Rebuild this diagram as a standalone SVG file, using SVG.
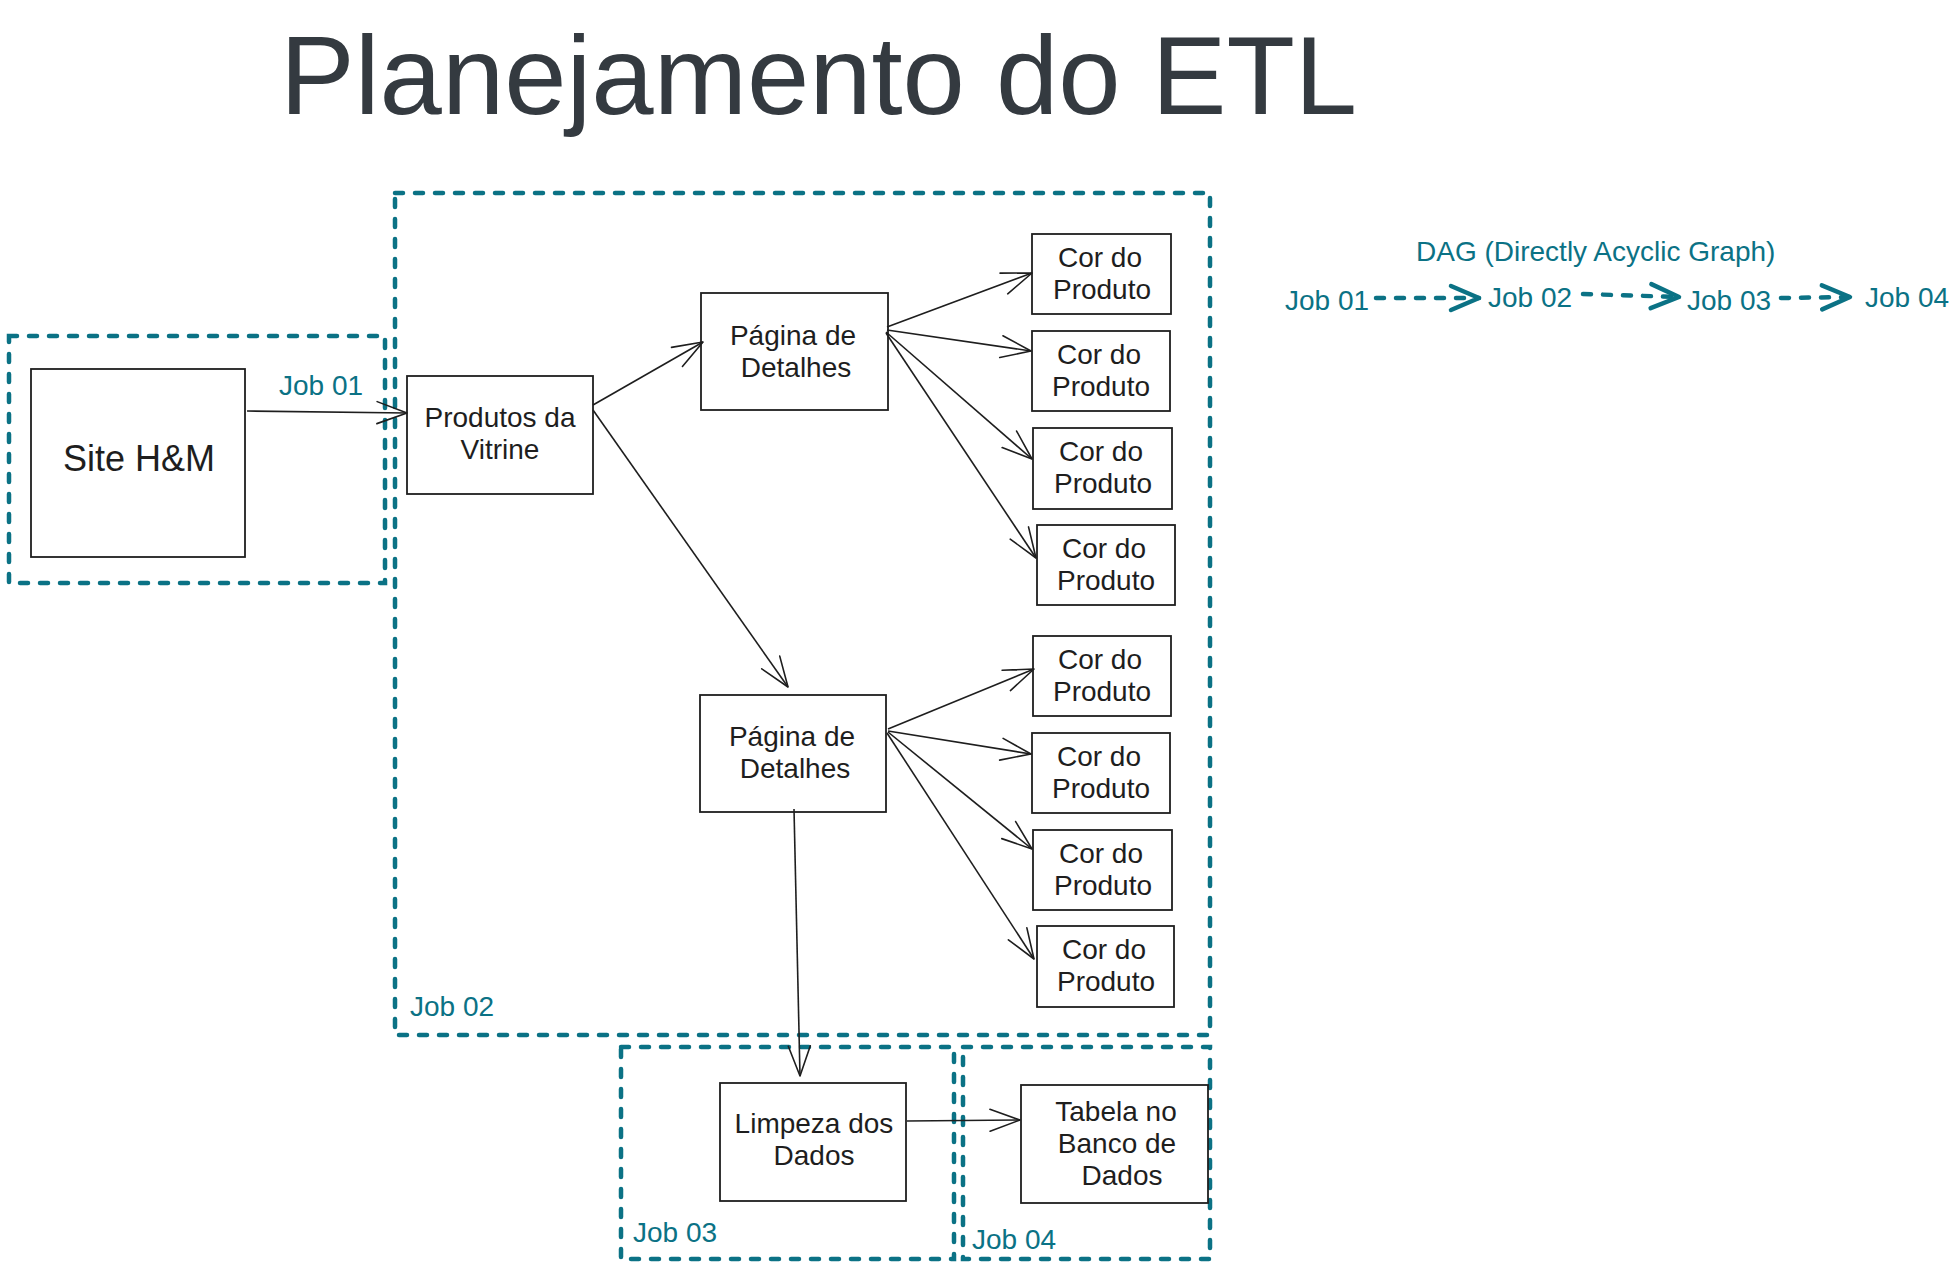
<svg xmlns="http://www.w3.org/2000/svg" width="1959" height="1267" viewBox="0 0 1959 1267">
<defs>
<style>
text{font-family:"Liberation Sans",Arial,sans-serif}
.node rect{fill:#ffffff;stroke:#1e1e1e;stroke-width:1.8}
.lbl{font-size:28px;fill:#1e1e1e;text-anchor:middle}
.job rect{fill:none;stroke:#0b7285;stroke-width:4.5;stroke-dasharray:8 12;stroke-linecap:round}
.jt{font-size:28px;fill:#0b7285}
.conn line{stroke:#1e1e1e;stroke-width:1.6;fill:none;marker-end:url(#arr)}
.dag line{stroke:#0b7285;stroke-width:4.5;stroke-dasharray:8 12;stroke-linecap:round;marker-end:url(#arrT)}
</style>
<marker id="arr" markerUnits="userSpaceOnUse" markerWidth="40" markerHeight="30" viewBox="-35 -15 40 30" refX="0" refY="0" orient="auto" overflow="visible">
<path d="M-30,-11 L0,0 L-30,11" fill="none" stroke="#1e1e1e" stroke-width="1.6" stroke-linecap="round" stroke-linejoin="round"/>
</marker>
<marker id="arrT" markerUnits="userSpaceOnUse" markerWidth="40" markerHeight="34" viewBox="-35 -17 40 34" refX="0" refY="0" orient="auto" overflow="visible">
<path d="M-28,-12 L0,0 L-28,12" fill="none" stroke="#0b7285" stroke-width="4.5" stroke-linecap="round" stroke-linejoin="round"/>
</marker>
</defs>
<rect width="1959" height="1267" fill="#ffffff"/>

<text id="title" x="280" y="114" font-size="112" fill="#343a40">Planejamento do ETL</text>

<g id="job01" class="job"><rect x="9" y="336" width="376" height="247"/><text class="jt" x="279" y="395">Job 01</text></g>
<g id="job02" class="job"><rect x="395" y="193" width="815" height="842"/><text class="jt" x="410" y="1016">Job 02</text></g>
<g id="job03" class="job"><rect x="621" y="1047" width="333" height="212"/><text class="jt" x="633" y="1242">Job 03</text></g>
<g id="job04" class="job"><rect x="963" y="1047" width="247" height="212"/><text class="jt" x="972" y="1249">Job 04</text></g>

<g id="site"><g class="node"><rect x="31" y="369" width="214" height="188"/></g><text x="139" y="471" font-size="36" fill="#1e1e1e" text-anchor="middle">Site H&amp;M</text></g>
<g id="produtos" class="node"><rect x="407" y="376" width="186" height="118"/><text class="lbl" x="500" y="426.5">Produtos da<tspan x="500" dy="32">Vitrine</tspan></text></g>
<g id="pagina1" class="node"><rect x="701" y="293" width="187" height="117"/><text class="lbl" x="793" y="345">Página de<tspan x="796" dy="32">Detalhes</tspan></text></g>
<g id="pagina2" class="node"><rect x="700" y="695" width="186" height="117"/><text class="lbl" x="792" y="746">Página de<tspan x="795" dy="32">Detalhes</tspan></text></g>

<g id="cor1" class="node"><rect x="1032" y="234" width="139" height="80"/><text class="lbl" x="1100" y="267">Cor do<tspan x="1102" dy="32">Produto</tspan></text></g>
<g id="cor2" class="node"><rect x="1032" y="331" width="138" height="80"/><text class="lbl" x="1099" y="364">Cor do<tspan x="1101" dy="32">Produto</tspan></text></g>
<g id="cor3" class="node"><rect x="1033" y="428" width="139" height="81"/><text class="lbl" x="1101" y="461">Cor do<tspan x="1103" dy="32">Produto</tspan></text></g>
<g id="cor4" class="node"><rect x="1037" y="525" width="138" height="80"/><text class="lbl" x="1104" y="558">Cor do<tspan x="1106" dy="32">Produto</tspan></text></g>
<g id="cor5" class="node"><rect x="1033" y="636" width="138" height="80"/><text class="lbl" x="1100" y="669">Cor do<tspan x="1102" dy="32">Produto</tspan></text></g>
<g id="cor6" class="node"><rect x="1032" y="733" width="138" height="80"/><text class="lbl" x="1099" y="766">Cor do<tspan x="1101" dy="32">Produto</tspan></text></g>
<g id="cor7" class="node"><rect x="1033" y="830" width="139" height="80"/><text class="lbl" x="1101" y="863">Cor do<tspan x="1103" dy="32">Produto</tspan></text></g>
<g id="cor8" class="node"><rect x="1037" y="926" width="137" height="81"/><text class="lbl" x="1104" y="959">Cor do<tspan x="1106" dy="32">Produto</tspan></text></g>

<g id="limpeza" class="node"><rect x="720" y="1083" width="186" height="118"/><text class="lbl" x="814" y="1133">Limpeza dos<tspan x="814" dy="32">Dados</tspan></text></g>
<g id="tabela" class="node"><rect x="1021" y="1085" width="187" height="118"/><text class="lbl" x="1116" y="1121">Tabela no<tspan x="1117" dy="32">Banco de</tspan><tspan x="1122" dy="32">Dados</tspan></text></g>

<g id="dag"><text class="jt" x="1416" y="261">DAG (Directly Acyclic Graph)</text>
<text class="jt" x="1285" y="310">Job 01</text><text class="jt" x="1488" y="307">Job 02</text><text class="jt" x="1687" y="310">Job 03</text><text class="jt" x="1865" y="307">Job 04</text></g>

<g id="connectors">
<g class="conn">
<line x1="247" y1="411" x2="407" y2="413"/>
<line x1="593" y1="405" x2="703" y2="342"/>
<line x1="593" y1="410" x2="788" y2="687"/>
<line x1="887" y1="327" x2="1032" y2="273"/>
<line x1="887" y1="330" x2="1031" y2="351"/>
<line x1="886" y1="332" x2="1032" y2="459"/>
<line x1="886" y1="333" x2="1036" y2="558"/>
<line x1="888" y1="729" x2="1034" y2="669"/>
<line x1="888" y1="731" x2="1031" y2="754"/>
<line x1="888" y1="732" x2="1032" y2="849"/>
<line x1="887" y1="733" x2="1034" y2="959"/>
<line x1="794" y1="809" x2="800" y2="1076"/>
<line x1="907" y1="1121" x2="1020" y2="1120"/>
</g>
<g class="dag">
<line x1="1376" y1="298" x2="1479" y2="298"/>
<line x1="1583" y1="294" x2="1679" y2="297"/>
<line x1="1781" y1="298" x2="1850" y2="297"/>
</g>
</g>
</svg>
